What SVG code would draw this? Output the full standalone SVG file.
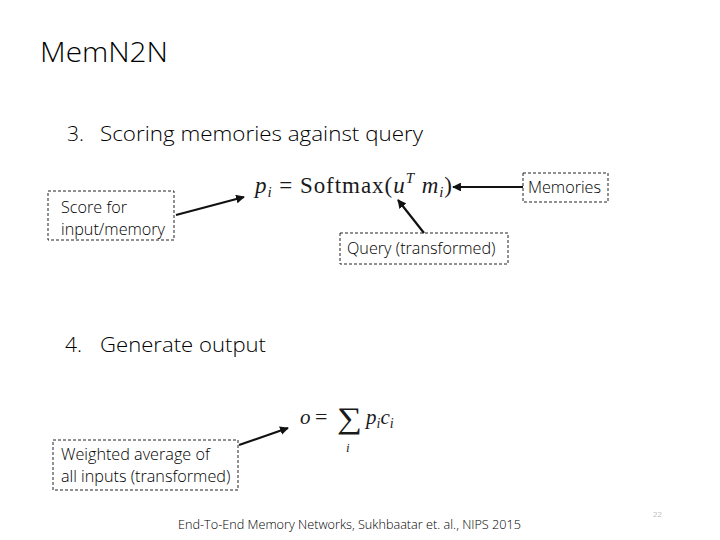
<svg xmlns="http://www.w3.org/2000/svg" width="720" height="540" viewBox="0 0 720 540">
<style>
.t{font-family:"Open Sans","Liberation Sans",sans-serif;fill:#000;font-weight:300}
.m{font-family:"Liberation Serif","DejaVu Serif",serif;fill:#1a1a1a}
.box{fill:none;stroke:#222;stroke-width:1;stroke-dasharray:3,2}
.ar{stroke:#111;stroke-width:2.2;fill:none;marker-end:url(#ah)}
.lb{font-size:16.2px}
</style>
<defs>
<marker id="ah" viewBox="0 0 10 10" refX="9" refY="5" markerWidth="4" markerHeight="4" orient="auto">
<path d="M0,0 L10,5 L0,10 Z" fill="#111"/>
</marker>
</defs>
<rect width="720" height="540" fill="#fff"/>
<text class="t" x="40" y="62" font-size="27" textLength="128" lengthAdjust="spacingAndGlyphs">MemN2N</text>
<g id="heading3">
<text class="t" x="67" y="141" font-size="21">3.</text>
<text class="t" x="100" y="141" font-size="21" textLength="323" lengthAdjust="spacingAndGlyphs">Scoring memories against query</text>
</g>
<g id="formula1">
<text class="m" x="255" y="193" font-size="23" textLength="197"><tspan font-style="italic">p</tspan><tspan font-style="italic" font-size="15" dy="4">i</tspan><tspan dy="-4"> = Softmax(</tspan><tspan font-style="italic">u</tspan><tspan font-style="italic" font-size="15" dy="-10">T</tspan><tspan font-style="italic" dy="10"> m</tspan><tspan font-style="italic" font-size="15" dy="4">i</tspan><tspan dy="-4">)</tspan></text>
</g>
<g id="score">
<rect class="box" x="48" y="191" width="126" height="49"/>
<text class="t lb" x="61" y="213">Score for</text>
<text class="t lb" x="61" y="235">input/memory</text>
</g>
<g id="memories">
<rect class="box" x="523" y="173" width="85" height="29"/>
<text class="t lb" x="528" y="193">Memories</text>
</g>
<g id="query">
<rect class="box" x="340" y="233" width="168" height="31"/>
<text class="t lb" x="347" y="254">Query (transformed)</text>
</g>
<g id="heading4">
<text class="t" x="65" y="352" font-size="21">4.</text>
<text class="t" x="100" y="352" font-size="21" textLength="166" lengthAdjust="spacingAndGlyphs">Generate output</text>
</g>
<g id="formula2">
<text class="m" x="300" y="424" font-size="21" font-style="italic">o</text>
<text class="m" x="315" y="424" font-size="22">=</text>
<text class="m" x="337" y="428" font-size="30" textLength="25" lengthAdjust="spacingAndGlyphs">∑</text>
<text class="m" x="346" y="452" font-size="13" font-style="italic">i</text>
<text class="m" x="366" y="424" font-size="21" font-style="italic">p<tspan font-size="14" dy="4">i</tspan><tspan dy="-4">c</tspan><tspan font-size="14" dy="4">i</tspan></text>
</g>
<g id="weighted">
<rect class="box" x="53" y="440" width="185" height="50"/>
<text class="t lb" x="61" y="460">Weighted average of</text>
<text class="t lb" x="61" y="482">all inputs (transformed)</text>
</g>
<g id="connectors">
<line class="ar" x1="176" y1="215" x2="244" y2="197"/>
<line class="ar" x1="523" y1="187" x2="453" y2="187"/>
<line class="ar" x1="424" y1="233" x2="398" y2="200"/>
<line class="ar" x1="239" y1="445" x2="288" y2="428"/>
</g>
<text class="t" x="178" y="529" font-size="12.5" textLength="343" lengthAdjust="spacingAndGlyphs">End-To-End Memory Networks, Sukhbaatar et. al., NIPS 2015</text>
<text class="t" x="653" y="517" font-size="8" style="fill:#888">22</text>
</svg>
